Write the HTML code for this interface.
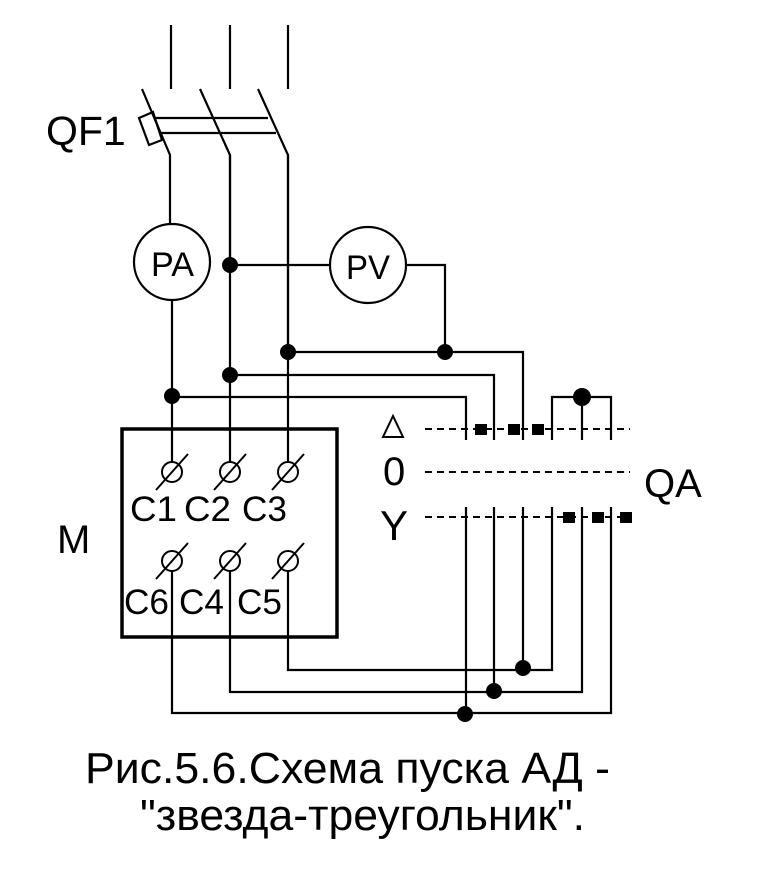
<!DOCTYPE html>
<html><head><style>body{margin:0;background:#fff}svg{display:block}</style></head><body>
<svg width="770" height="872" viewBox="0 0 770 872" xmlns="http://www.w3.org/2000/svg" font-family="Liberation Sans, sans-serif">
<rect width="770" height="872" fill="#fff"/>
<g stroke="#000" stroke-width="2.2" fill="none">
<line x1="171" y1="25" x2="171" y2="89"/><line x1="230" y1="25" x2="230" y2="89"/><line x1="288" y1="25" x2="288" y2="89"/>
<polyline points="142,89 170,155 170,224"/>
<polyline points="200,89 230,155 230,265"/>
<polyline points="258,89 288,155 288,352"/>
<line x1="155" y1="118" x2="268" y2="118"/><line x1="160" y1="133" x2="276" y2="133"/>
<polygon points="139,118 153,112 162,140 149,145"/>
<circle cx="172" cy="262" r="38"/><circle cx="368" cy="265" r="38"/>
<line x1="172" y1="300" x2="172" y2="462"/>
<line x1="230" y1="155" x2="230" y2="462"/>
<line x1="288" y1="155" x2="288" y2="462"/>
<line x1="230" y1="265" x2="330" y2="265"/>
<polyline points="406,265 445,265 445,352"/>
<polyline points="288,352 523,352 523,440"/>
<polyline points="230,375 494,375 494,440"/>
<polyline points="172,397 466,397 466,440"/>
<polyline points="552,440 552,397 611,397 611,440"/>
<line x1="582" y1="397" x2="582" y2="440"/>
<line x1="466" y1="507" x2="466" y2="714"/>
<line x1="494" y1="507" x2="494" y2="691"/>
<line x1="523" y1="507" x2="523" y2="668"/>
<polyline points="611,507 611,713 172,713 172,571"/>
<polyline points="582,507 582,692 230,692 230,571"/>
<polyline points="288,571 288,670 552,670 552,507"/>
<rect x="122" y="429" width="215" height="208" stroke-width="3.5"/>
<g stroke-width="2">
<circle cx="172" cy="472" r="10"/><line x1="156" y1="490" x2="188" y2="454"/>
<circle cx="230" cy="472" r="10"/><line x1="214" y1="490" x2="246" y2="454"/>
<circle cx="288" cy="472" r="10"/><line x1="272" y1="490" x2="304" y2="454"/>
<circle cx="172" cy="561" r="10"/><line x1="156" y1="579" x2="188" y2="543"/>
<circle cx="230" cy="561" r="10"/><line x1="214" y1="579" x2="246" y2="543"/>
<circle cx="288" cy="561" r="10"/><line x1="272" y1="579" x2="304" y2="543"/>
</g>
<g stroke-width="2" stroke-dasharray="7,5">
<line x1="425" y1="429" x2="630" y2="429"/>
<line x1="425" y1="472" x2="630" y2="472"/>
<line x1="425" y1="517" x2="630" y2="517"/>
</g>
</g>
<g fill="#000">
<circle cx="230" cy="265" r="8"/><circle cx="288" cy="352" r="8"/><circle cx="445" cy="352" r="8"/>
<circle cx="230" cy="375" r="8"/><circle cx="172" cy="396" r="8"/><circle cx="582" cy="397" r="9"/>
<circle cx="523" cy="668" r="8"/><circle cx="494" cy="691" r="8"/><circle cx="465" cy="714" r="8"/>
<rect x="475" y="424" width="12" height="11"/><rect x="508" y="424" width="12" height="11"/><rect x="532" y="424" width="12" height="11"/>
<rect x="563" y="512" width="12" height="11"/><rect x="592" y="512" width="12" height="11"/><rect x="620" y="512" width="12" height="11"/>
</g>
<g fill="#000">
<text x="46" y="145" font-size="41">QF1</text>
<text x="151" y="276" font-size="34" textLength="43" lengthAdjust="spacingAndGlyphs">PA</text>
<text x="346" y="279" font-size="34" textLength="44" lengthAdjust="spacingAndGlyphs">PV</text>
<g font-size="35">
<text x="130" y="521" textLength="47" lengthAdjust="spacingAndGlyphs">C1</text><text x="184" y="521" textLength="47" lengthAdjust="spacingAndGlyphs">C2</text><text x="242" y="521" textLength="45" lengthAdjust="spacingAndGlyphs">C3</text>
<text x="124" y="614" textLength="45" lengthAdjust="spacingAndGlyphs">C6</text><text x="179" y="614" textLength="45" lengthAdjust="spacingAndGlyphs">C4</text><text x="237" y="614" textLength="45" lengthAdjust="spacingAndGlyphs">C5</text>
</g>
<text x="57" y="553" font-size="40">M</text>
<text x="383" y="485" font-size="40">0</text>
<text x="380" y="540" font-size="42">Y</text>
<text x="644" y="497" font-size="40">QA</text>
<text x="85" y="783" font-size="44" textLength="525" lengthAdjust="spacingAndGlyphs">Рис.5.6.Схема пуска АД -</text>
<text x="140" y="830" font-size="44" textLength="445" lengthAdjust="spacingAndGlyphs">"звезда-треугольник".</text>
</g>
<polygon points="393,416 383,437 403,437" fill="none" stroke="#000" stroke-width="2"/>
</svg>
</body></html>
